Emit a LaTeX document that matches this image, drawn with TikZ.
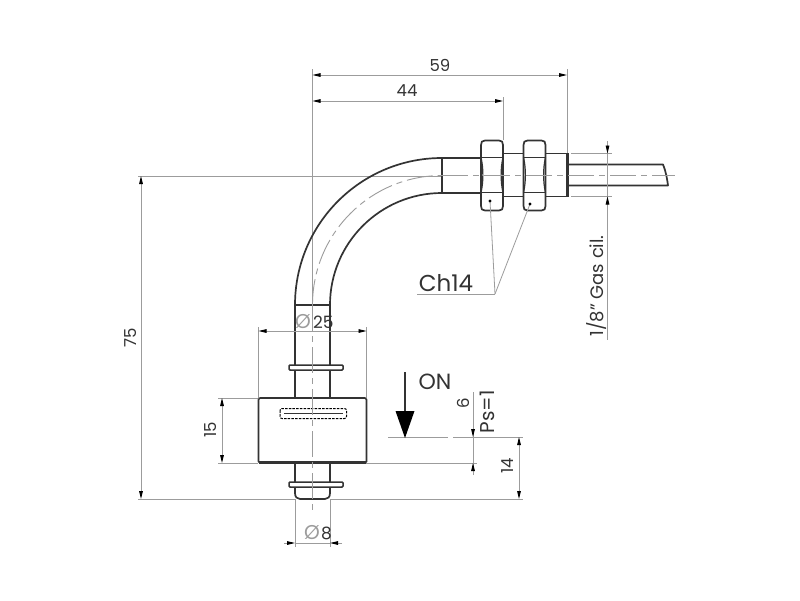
\documentclass[tikz,border=0pt]{standalone}
\usepackage{fontspec}
\setmainfont{Poppins}
\usetikzlibrary{arrows.meta}
\definecolor{ink}{HTML}{333333}
\definecolor{thin}{HTML}{9C9C9C}
\tikzset{
  x=1pt,y=-1pt,
  outline/.style={draw=ink,line width=1.7pt,line join=round},
  inner line/.style={draw=ink,line width=1.2pt},
  centre/.style={draw=thin,line width=0.9pt,dash pattern=on 26pt off 5pt on 6pt off 5pt},
  extline/.style={draw=thin,line width=0.8pt},
  dimline/.style={draw=thin,line width=0.9pt},
  dimtips/.style={{Stealth[length=8pt,width=3.6pt,inset=0pt,black]}-{Stealth[length=8pt,width=3.6pt,inset=0pt,black]}},
  endtip/.style={-{Stealth[length=8pt,width=3.6pt,inset=0pt,black]}},
  label/.style={text=ink,inner sep=0pt,font=\fontsize{16.5}{16.5}\selectfont},
  biglabel/.style={text=ink,inner sep=0pt,font=\fontsize{23}{23}\selectfont},
  diam/.style={text=thin,inner sep=0pt,font=\fontsize{20}{20}\selectfont},
}
\begin{document}
\begin{tikzpicture}
\useasboundingbox (0,0) rectangle (800,600);
\fill[white] (0,0) rectangle (800,600);

% construction / extension lines
\draw[extline] (312.5,69) -- (312.5,305);
\draw[extline] (503,97) -- (503,140);
\draw[extline] (567,69) -- (567,153);
\draw[extline] (138,176) -- (442,176);
\draw[extline] (138,499) -- (295,499);
\draw[extline] (331,499) -- (523,499);
\draw[extline] (218,398) -- (258,398);
\draw[extline] (218,463) -- (258,463);
\draw[extline] (258.5,327) -- (258.5,398);
\draw[extline] (366.5,327) -- (366.5,398);
\draw[extline] (366,463) -- (477,463);
\draw[extline] (388,437) -- (448,437);
\draw[extline] (453,437) -- (523,437);
\draw[extline] (295,499) -- (295,547);
\draw[extline] (330,499) -- (330,547);
\draw[extline] (571,153.5) -- (612,153.5);
\draw[extline] (571,196.5) -- (612,196.5);

% tube with bend
\draw[outline] (295,305) arc[start angle=180,end angle=270,radius=147] -- (481,158);
\draw[outline] (330,305) arc[start angle=180,end angle=270,radius=112] -- (481,193);
\draw[inner line] (442,158) -- (442,193);
\draw[inner line] (295,305) -- (330,305);
\draw[centre] (312.5,305) arc[start angle=180,end angle=270,radius=129.5];

% threaded body and cable
\draw[outline] (503,153.5) -- (566,153.5);
\draw[outline] (503,196.5) -- (566,196.5);
\fill[ink] (565.5,153) rectangle (568.5,197);
\draw[outline] (568,164.5) -- (663,164.5) .. controls (666,172) and (667,178) .. (668,185.5) -- (568,185.5);

% nuts
\foreach \nx in {481,523.5}{
  \begin{scope}[shift={(\nx,0)}]
    \draw[outline,fill=white] (4,140.5) -- (18,140.5) .. controls (21,140.5) and (22,142) .. (22,145)
      -- (22,206) .. controls (22,209) and (21,210.5) .. (18,210.5) -- (4,210.5)
      .. controls (1,210.5) and (0,209) .. (0,206) -- (0,145) .. controls (0,142) and (1,140.5) .. (4,140.5) -- cycle;
    \draw[inner line] (0,157.5) -- (22,157.5);
    \draw[inner line] (0,192.5) -- (22,192.5);
    \draw[inner line] (0,157.5) .. controls (2.5,168) and (2.5,182) .. (0,192.5);
    \draw[inner line] (22,157.5) .. controls (19.5,168) and (19.5,182) .. (22,192.5);
  \end{scope}
}
\draw[centre] (442,175) -- (675,175);

% leaders
\coordinate (elbow) at (495,294);
\coordinate (dotA) at (490,201);
\coordinate (dotB) at (530,204);
\draw[extline] (417,294) -- (elbow);
\draw[extline] (elbow) -- (dotA);
\draw[extline] (elbow) -- (dotB);
\fill[black] (dotA) circle[radius=1.6];
\fill[black] (dotB) circle[radius=1.6];

% rod
\draw[outline] (295,305) -- (295,398);
\draw[outline] (330,305) -- (330,398);
\draw[outline] (295,463) -- (295,493) .. controls (295,497) and (297,499) .. (300,499) -- (325,499) .. controls (328,499) and (330,497) .. (330,493) -- (330,463);

% clips
\foreach \cy in {367.5,484.5}{
  \draw[inner line,line width=1.5pt,fill=white,rounded corners=1pt] (289,\cy-2.5) rectangle (343,\cy+2.5);
}

% float
\draw[outline,fill=white,rounded corners=1.5pt] (258.5,398) rectangle (366.5,463);
\draw[ink,line width=2.4pt] (259,462.5) -- (366,462.5);
\draw[thin,line width=1pt,dash pattern=on 2.5pt off 1.2pt,rounded corners=2pt] (280,408.5) rectangle (346.5,418.5);
\draw[ink,line width=0.9pt] (284,413.5) -- (343,413.5);
\draw[centre] (312.5,305) -- (312.5,511);

% dimensions
\draw[dimline,dimtips] (312.5,75) -- (567,75);
\draw[dimline,dimtips] (312.5,101) -- (503,101);
\draw[dimline,dimtips] (141,176) -- (141,499);
\draw[dimline,dimtips] (222,398) -- (222,463);
\draw[dimline,dimtips] (258.5,331) -- (366.5,331);
\draw[dimline,dimtips] (519,437) -- (519,499);
\coordinate (d8L) at (295,543);
\coordinate (d8R) at (330,543);
\draw[dimline] (d8L) -- (d8R);
\draw[dimline,endtip] (284,543) -- (d8L);
\draw[dimline,endtip] (342,543) -- (d8R);
\coordinate (d6T) at (473,437);
\coordinate (d6B) at (473,463);
\draw[dimline] (473,392) -- (473,475);
\draw[dimline,endtip] (473,427) -- (d6T);
\draw[dimline,endtip] (473,475) -- (d6B);
\draw[dimline] (607.5,141) -- (607.5,340);
\draw[dimline,endtip] (607.5,142) -- (607.5,153.5);
\draw[dimline,endtip] (607.5,208) -- (607.5,196.5);

% ON arrow
\draw[ink,line width=1.3pt] (405,372) -- (405,415);
\fill[black] (395.5,411) -- (414.5,411) -- (405,438) -- cycle;

% labels
\node[label] (n59) at (440,65) {59};
\node[label] (n44) at (407,91) {44};
\node[label,rotate=90] (n75) at (131,338) {75};
\node[label,rotate=90] (n15) at (211,430) {15};
\node[label,rotate=90] (n14) at (508,466) {14};
\node[label,rotate=90] (n6) at (463,403) {6};
\node[label,rotate=90,font=\fontsize{20}{20}\selectfont] (nps) at (487,412) {Ps=1};
\node[label,font=\fontsize{22}{22}\selectfont] (non) at (435,382) {ON};
\node[biglabel] (nch) at (446,283) {Ch14};
\node[label,rotate=90,font=\fontsize{18}{18}\selectfont] (ngas) at (597,286) {1/8'' Gas cil.};
\node[diam] (d25a) at (303,322) {Ø};
\node[label,anchor=west,font=\fontsize{17}{17}\selectfont] (d25b) at (313,322) {25};
\node[diam] (d8a) at (312,533) {Ø};
\node[label,anchor=west,font=\fontsize{17}{17}\selectfont] (d8b) at (321,533) {8};
\end{tikzpicture}
\end{document}
